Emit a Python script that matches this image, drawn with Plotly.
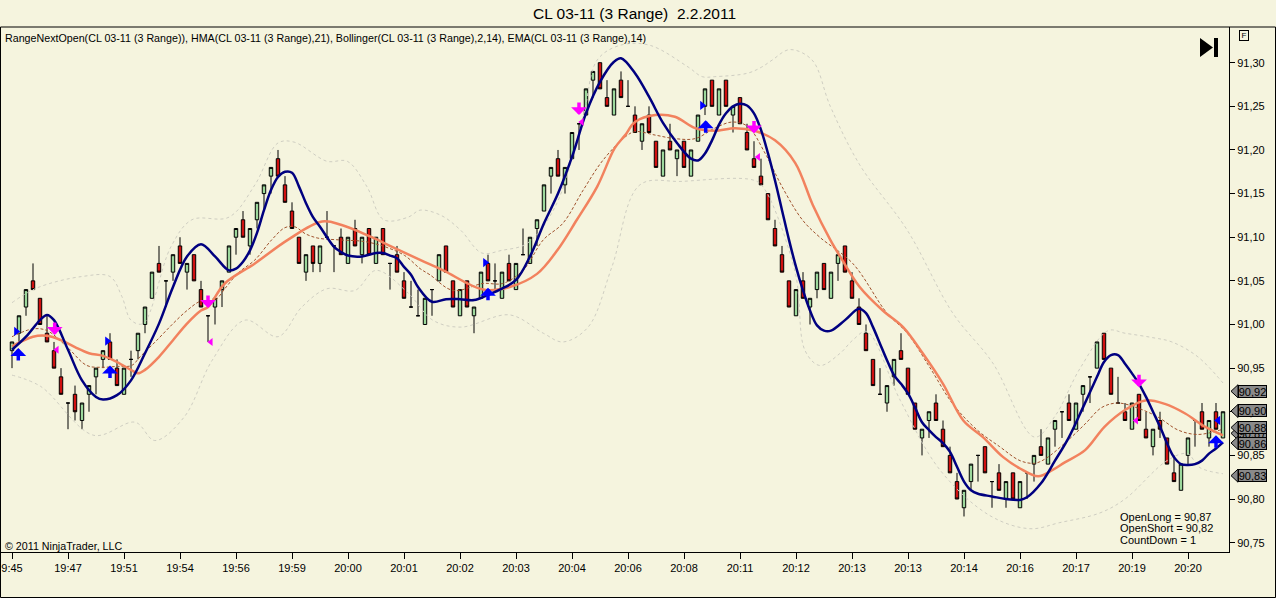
import plotly.graph_objects as go

# --- Achse / Zeiten ---
tick_pos = [0, 8, 16, 24, 32, 40, 48, 56, 64, 72, 80, 88, 96, 104, 112, 120, 128, 136, 144, 152, 160, 168]
tick_text = ["9:45", "19:47", "19:51", "19:54", "19:56", "19:59", "20:00", "20:01", "20:02", "20:03", "20:04",
             "20:06", "20:08", "20:11", "20:12", "20:13", "20:13", "20:14", "20:16", "20:17", "20:19", "20:20"]

# --- Range-Bars (CL 03-11, 3 Range) ---
opens = [
    90.97, 90.99, 91.02, 91.05, 91.03, 90.99, 90.97, 90.94, 90.91, 90.92,
    90.89, 90.92, 90.94, 90.96, 90.98, 90.95, 90.92, 90.96, 90.97, 91.00,
    91.03, 91.07, 91.05, 91.06, 91.09, 91.06, 91.08, 91.04, 91.01, 91.02,
    91.04, 91.06, 91.10, 91.12, 91.09, 91.12, 91.15, 91.17, 91.19, 91.16,
    91.13, 91.10, 91.06, 91.09, 91.07, 91.10, 91.09, 91.10, 91.07, 91.11,
    91.08, 91.11, 91.07, 91.11, 91.07, 91.08, 91.05, 91.02, 91.01, 91.00,
    91.04, 91.05, 91.09, 91.05, 91.01, 91.05, 91.01, 91.03, 91.07, 91.05,
    91.03, 91.07, 91.04, 91.08, 91.07, 91.11, 91.13, 91.17, 91.19, 91.16,
    91.19, 91.23, 91.24, 91.28, 91.30, 91.26, 91.24, 91.28, 91.25, 91.24,
    91.21, 91.24, 91.21, 91.17, 91.21, 91.19, 91.21, 91.17, 91.21, 91.25,
    91.28, 91.24, 91.28, 91.24, 91.26, 91.22, 91.19, 91.17, 91.15, 91.11,
    91.08, 91.05, 91.01, 91.05, 91.02, 91.04, 91.07, 91.03, 91.07, 91.09,
    91.05, 91.02, 90.99, 90.96, 90.92, 90.91, 90.94, 90.97, 90.95, 90.91,
    90.87, 90.89, 90.91, 90.88, 90.85, 90.82, 90.79, 90.82, 90.85, 90.86,
    90.82, 90.83, 90.80, 90.83, 90.79, 90.83, 90.84, 90.86, 90.84, 90.88,
    90.90, 90.91, 90.88, 90.92, 90.94, 90.95, 90.99, 90.95, 90.91, 90.90,
    90.88, 90.92, 90.88, 90.86, 90.89, 90.87, 90.83, 90.81, 90.85, 90.89,
    90.90, 90.87, 90.90, 90.87]
closes = [
    90.98, 91.01, 91.04, 91.04, 91.00, 90.98, 90.95, 90.92, 90.91, 90.90,
    90.91, 90.93, 90.95, 90.97, 90.96, 90.93, 90.95, 90.96, 90.99, 91.02,
    91.06, 91.06, 91.05, 91.08, 91.07, 91.07, 91.05, 91.02, 91.01, 91.03,
    91.05, 91.09, 91.11, 91.10, 91.11, 91.14, 91.16, 91.18, 91.17, 91.14,
    91.11, 91.07, 91.08, 91.07, 91.09, 91.10, 91.09, 91.08, 91.10, 91.09,
    91.10, 91.08, 91.10, 91.08, 91.07, 91.06, 91.03, 91.02, 91.01, 91.03,
    91.04, 91.08, 91.06, 91.02, 91.04, 91.02, 91.02, 91.06, 91.05, 91.05,
    91.06, 91.05, 91.07, 91.08, 91.10, 91.12, 91.16, 91.18, 91.17, 91.18,
    91.22, 91.23, 91.27, 91.29, 91.27, 91.25, 91.27, 91.26, 91.25, 91.22,
    91.23, 91.22, 91.18, 91.20, 91.20, 91.20, 91.18, 91.20, 91.24, 91.27,
    91.25, 91.27, 91.25, 91.25, 91.23, 91.20, 91.18, 91.16, 91.12, 91.09,
    91.06, 91.02, 91.04, 91.03, 91.03, 91.06, 91.04, 91.06, 91.08, 91.06,
    91.03, 91.00, 90.97, 90.93, 90.92, 90.93, 90.96, 90.96, 90.92, 90.88,
    90.88, 90.90, 90.89, 90.86, 90.83, 90.80, 90.81, 90.84, 90.85, 90.83,
    90.82, 90.81, 90.82, 90.80, 90.82, 90.83, 90.85, 90.85, 90.87, 90.89,
    90.90, 90.89, 90.91, 90.93, 90.94, 90.98, 90.96, 90.92, 90.91, 90.89,
    90.91, 90.89, 90.87, 90.88, 90.88, 90.84, 90.82, 90.84, 90.87, 90.89,
    90.88, 90.89, 90.88, 90.90]
highs = [
    90.98, 91.01, 91.04, 91.07, 91.03, 91.01, 90.98, 90.95, 90.91, 90.93,
    90.91, 90.93, 90.95, 90.97, 90.99, 90.96, 90.95, 90.97, 90.99, 91.02,
    91.06, 91.09, 91.05, 91.08, 91.10, 91.07, 91.08, 91.05, 91.01, 91.03,
    91.05, 91.09, 91.11, 91.13, 91.11, 91.14, 91.16, 91.18, 91.20, 91.17,
    91.14, 91.10, 91.08, 91.09, 91.09, 91.13, 91.09, 91.11, 91.10, 91.12,
    91.10, 91.11, 91.10, 91.11, 91.07, 91.09, 91.06, 91.05, 91.04, 91.03,
    91.04, 91.08, 91.09, 91.05, 91.04, 91.05, 91.02, 91.06, 91.08, 91.07,
    91.06, 91.08, 91.07, 91.11, 91.10, 91.12, 91.16, 91.18, 91.20, 91.18,
    91.22, 91.23, 91.27, 91.29, 91.30, 91.28, 91.27, 91.29, 91.28, 91.25,
    91.23, 91.25, 91.21, 91.20, 91.23, 91.20, 91.21, 91.20, 91.24, 91.27,
    91.28, 91.27, 91.28, 91.25, 91.26, 91.23, 91.21, 91.19, 91.15, 91.12,
    91.09, 91.05, 91.04, 91.06, 91.03, 91.06, 91.07, 91.06, 91.08, 91.09,
    91.06, 91.03, 91.00, 90.96, 90.95, 90.93, 90.96, 90.99, 90.95, 90.91,
    90.88, 90.90, 90.92, 90.89, 90.86, 90.83, 90.81, 90.84, 90.85, 90.86,
    90.82, 90.84, 90.82, 90.83, 90.82, 90.83, 90.85, 90.88, 90.87, 90.89,
    90.90, 90.92, 90.91, 90.93, 90.94, 90.98, 90.99, 90.95, 90.94, 90.91,
    90.91, 90.92, 90.90, 90.88, 90.90, 90.87, 90.85, 90.84, 90.87, 90.89,
    90.91, 90.89, 90.91, 90.90]
lows = [
    90.95, 90.98, 91.01, 91.04, 91.00, 90.98, 90.95, 90.92, 90.88, 90.89,
    90.88, 90.90, 90.92, 90.95, 90.96, 90.93, 90.92, 90.94, 90.96, 90.99,
    91.03, 91.06, 91.02, 91.05, 91.07, 91.04, 91.05, 91.02, 90.98, 91.00,
    91.02, 91.06, 91.08, 91.10, 91.08, 91.11, 91.13, 91.15, 91.17, 91.14,
    91.11, 91.07, 91.05, 91.06, 91.06, 91.10, 91.06, 91.08, 91.07, 91.09,
    91.07, 91.08, 91.07, 91.08, 91.04, 91.06, 91.03, 91.02, 91.01, 91.00,
    91.01, 91.05, 91.06, 91.02, 91.01, 91.02, 90.99, 91.03, 91.05, 91.04,
    91.03, 91.05, 91.04, 91.08, 91.07, 91.09, 91.13, 91.15, 91.17, 91.15,
    91.19, 91.20, 91.24, 91.26, 91.27, 91.25, 91.24, 91.26, 91.25, 91.22,
    91.20, 91.22, 91.18, 91.17, 91.20, 91.17, 91.18, 91.17, 91.21, 91.24,
    91.25, 91.24, 91.25, 91.22, 91.23, 91.20, 91.18, 91.16, 91.12, 91.09,
    91.06, 91.02, 91.01, 91.03, 91.00, 91.03, 91.04, 91.03, 91.05, 91.06,
    91.03, 91.00, 90.97, 90.93, 90.92, 90.90, 90.93, 90.96, 90.92, 90.88,
    90.85, 90.87, 90.89, 90.86, 90.83, 90.80, 90.78, 90.81, 90.82, 90.83,
    90.79, 90.81, 90.79, 90.80, 90.79, 90.80, 90.82, 90.85, 90.84, 90.86,
    90.87, 90.89, 90.88, 90.90, 90.91, 90.95, 90.96, 90.92, 90.91, 90.89,
    90.88, 90.89, 90.87, 90.85, 90.87, 90.84, 90.82, 90.81, 90.84, 90.86,
    90.88, 90.86, 90.88, 90.87]
bar_idx = list(range(len(opens)))

# --- Indikatoren ---
hma_x = [0, 2, 4, 5, 6, 8, 10, 12, 13, 15, 17, 19, 21, 23, 25, 27, 29, 31, 32, 33,
         34, 35, 36, 37, 38, 39, 40, 41, 42, 43, 44, 45, 46, 47, 48, 50, 52, 53, 54, 55,
         56, 57, 58, 60, 62, 64, 66, 68, 70, 72, 74, 76, 78, 80, 82, 84, 86, 87, 89, 91,
         93, 95, 97, 98, 99, 100, 101, 102, 103, 104, 105, 106, 107, 108, 109, 110, 111, 112, 113, 114,
         115, 116, 117, 119, 121, 122, 123, 124, 125, 126, 127, 128, 129, 130, 131, 132, 133, 134, 135, 136,
         137, 138, 140, 142, 144, 145, 147, 149, 151, 153, 155, 156, 157, 158, 159, 160, 161, 162, 163, 164,
         165, 166, 167, 168, 169, 170, 171, 172, 173]
hma_y = [90.971, 90.986, 91.005, 91.011, 91.005, 90.971, 90.936, 90.917, 90.914, 90.919,
         90.936, 90.967, 91.001, 91.043, 91.078, 91.092, 91.078, 91.062, 91.064, 91.072,
         91.085, 91.105, 91.131, 91.154, 91.169, 91.175, 91.174, 91.158, 91.139, 91.123,
         91.112, 91.100, 91.089, 91.083, 91.079, 91.078, 91.082, 91.082, 91.079, 91.076,
         91.066, 91.057, 91.043, 91.026, 91.029, 91.029, 91.028, 91.034, 91.041, 91.051,
         91.078, 91.116, 91.150, 91.192, 91.242, 91.278, 91.301, 91.305, 91.288, 91.261,
         91.231, 91.208, 91.190, 91.188, 91.196, 91.211, 91.229, 91.242, 91.250, 91.253,
         91.251, 91.242, 91.223, 91.196, 91.165, 91.131, 91.097, 91.066, 91.039, 91.016,
         90.999, 90.993, 90.993, 91.005, 91.018, 91.013, 90.997, 90.978, 90.959, 90.942,
         90.932, 90.921, 90.905, 90.888, 90.879, 90.871, 90.864, 90.854, 90.837, 90.820,
         90.810, 90.806, 90.803, 90.800, 90.799, 90.802, 90.818, 90.844, 90.871, 90.905,
         90.940, 90.957, 90.965, 90.965, 90.955, 90.944, 90.932, 90.917, 90.900, 90.883,
         90.864, 90.848, 90.840, 90.839, 90.840, 90.844, 90.852, 90.858, 90.865]

ema_x = [0, 3, 5, 7, 9, 11, 13, 15, 17, 18, 19, 21, 23, 25, 27, 28, 30.4, 34.7, 39.4, 44.3,
         47.1, 51.4, 54.3, 58.3, 61.6, 67.3, 71.1, 75, 77.9, 80.7, 83.6, 86.1, 87.6, 89, 91.9,
         94.7, 97.6, 100.4, 103.3, 106.1, 109, 111.9, 114.4, 116.9, 118.3, 121.1, 124.4, 127.3,
         130.1, 133, 135.9, 138.7, 141.6, 144, 146.6, 148.6, 150.4, 153.3, 156.1, 159, 161.9,
         164.7, 167.6, 170.4, 173]
ema_y = [90.975, 90.986, 90.987, 90.982, 90.974, 90.967, 90.964, 90.957, 90.948, 90.944,
         90.948, 90.963, 90.982, 91.001, 91.016, 91.020, 91.047, 91.070, 91.097, 91.118,
         91.114, 91.100, 91.089, 91.074, 91.062, 91.040, 91.043, 91.058, 91.085, 91.120,
         91.158, 91.202, 91.217, 91.232, 91.240, 91.238, 91.225, 91.222, 91.225, 91.222,
         91.211, 91.185, 91.137, 91.097, 91.078, 91.043, 91.016, 90.997, 90.967, 90.932,
         90.890, 90.871, 90.848, 90.835, 90.826, 90.833, 90.842, 90.856, 90.883, 90.902,
         90.913, 90.909, 90.898, 90.883, 90.873]

mid_x = [0, 3, 5, 7.9, 10.7, 13, 15, 17.1, 18.3, 20.7, 23, 25, 27, 29, 30.4, 32.3, 34.7, 37.1,
         39, 40.4, 41.9, 43.7, 46.6, 50.4, 53.3, 56.1, 58.3, 59.7, 63, 67.3, 70.1, 73, 75.9,
         78.7, 81.6, 84.4, 87.6, 89, 91.9, 94.7, 97.6, 100.4, 102.9, 105.1, 107.6, 110, 112.9,
         115.4, 120.1, 125, 127.9, 131.1, 134.4, 137.9, 141.1, 144, 146.1, 147.6, 150.4, 153.3,
         155.7, 158, 160.9, 163.7, 166.6, 169.4, 173]
mid_y = [90.986, 90.995, 90.993, 90.974, 90.953, 90.951, 90.952, 90.953, 90.963, 90.982,
         91.001, 91.016, 91.027, 91.028, 91.041, 91.059, 91.074, 91.097, 91.111, 91.112,
         91.104, 91.099, 91.097, 91.095, 91.089, 91.079, 91.064, 91.057, 91.039, 91.047,
         91.047, 91.062, 91.097, 91.116, 91.154, 91.188, 91.215, 91.221, 91.217, 91.213,
         91.213, 91.225, 91.232, 91.227, 91.196, 91.158, 91.120, 91.100, 91.070, 91.013,
         90.990, 90.951, 90.909, 90.879, 90.860, 90.844, 90.841, 90.846, 90.864, 90.886,
         90.905, 90.910, 90.904, 90.894, 90.879, 90.874, 90.880]

upper_x = [0, 3.6, 10, 14, 15.7, 17, 18.7, 22.7, 25.7, 31, 34.7, 38, 40.3, 45, 47.9, 50.7,
           53.1, 56.6, 58.3, 61.3, 64.1, 67.1, 70, 73.6, 77.6, 81.6, 83.6, 86.9, 91.1, 96.6,
           98.6, 100.4, 105.1, 107.1, 108.6, 111.1, 114.3, 116.9, 121.1, 127.9, 134.4, 140.1,
           146.1, 149, 152.6, 156.6, 159, 162.9, 165.7, 169.4, 173]
upper_y = [91.025, 91.042, 91.055, 91.055, 91.032, 91.005, 91.001, 91.089, 91.120, 91.123,
           91.160, 91.208, 91.209, 91.187, 91.187, 91.158, 91.120, 91.123, 91.131, 91.125,
           91.108, 91.082, 91.085, 91.093, 91.135, 91.238, 91.303, 91.320, 91.320, 91.295,
           91.284, 91.284, 91.288, 91.295, 91.303, 91.315, 91.303, 91.250, 91.183, 91.108,
           91.013, 90.956, 90.871, 90.895, 90.950, 90.993, 90.990, 90.985, 90.980, 90.963,
           90.933]

lower_x = [0, 4.1, 11.7, 17.6, 20.4, 24.6, 28.6, 33.3, 38, 41.4, 45, 49, 52, 56.6, 60.1, 64.1,
           71.1, 75.9, 78.7, 82.3, 85.7, 89.7, 95.7, 106.1, 107.6, 111.9, 113.3, 115.4, 118.3,
           120.1, 122.1, 126.9, 132.6, 139.7, 145.4, 149.7, 155.4, 159, 165, 167.9, 169.7, 173]
lower_y = [90.942, 90.929, 90.873, 90.888, 90.867, 90.894, 90.959, 91.005, 90.986, 91.020,
           91.041, 91.039, 91.062, 91.036, 91.005, 90.997, 91.011, 90.990, 90.980, 90.997,
           91.066, 91.160, 91.164, 91.165, 91.154, 91.059, 90.970, 90.953, 90.967, 90.982,
           90.992, 90.913, 90.833, 90.781, 90.766, 90.773, 90.784, 90.800, 90.844, 90.852,
           90.836, 90.829]

# --- Signale (RangeNextOpen) ---
long_tri_x = [0.6, 13.6, 67.6, 98.6]
long_tri_y = [90.992, 90.981, 91.071, 91.251]
last_tri_x = [172.3]
last_tri_y = [90.890]
long_arrow_x = [0.9, 14.0, 68.0, 99.1, 172.0]
long_arrow_tip = [90.973, 90.953, 91.042, 91.234, 90.873]
short_arrow_x = [6.1, 28.0, 81.0, 106.0, 161.0]
short_arrow_tip = [90.988, 91.019, 91.240, 91.219, 90.928]
short_tri_x = [6.4, 28.4, 81.4, 106.6, 160.6]
short_tri_y = [90.971, 90.980, 91.232, 91.192, 90.890]

# --- Preis-Marker rechts ---
marker_prices = [90.8753, 90.9235, 90.9009, 90.8819, 90.8642, 90.8268]
marker_texts = ["90,87", "90,92", "90,90", "90,88", "90,86", "90,83"]

info_lines = ["OpenLong = 90,87", "OpenShort = 90,82", "CountDown = 1"]

BG = "#F5F4DE"
FONT = "Liberation Sans"

# Seitengeometrie
W, H = 1276, 598
ML, MR, MT, MB = 1, 47, 27, 46
PW, PH = W - ML - MR, H - MT - MB


def fx(p):
    return (p - ML) / PW


def fy(p):
    return (H - MB - p) / PH


fig = go.Figure()

band_line = dict(color="#CFCEC2", width=1, dash="dot", shape="spline", smoothing=1)
fig.add_trace(go.Scatter(x=upper_x, y=upper_y, mode="lines", line=band_line, hoverinfo="skip"))
fig.add_trace(go.Scatter(x=lower_x, y=lower_y, mode="lines", line=band_line, hoverinfo="skip"))

fig.add_trace(go.Candlestick(
    x=bar_idx, open=opens, high=highs, low=lows, close=closes,
    increasing=dict(fillcolor="#9CD89C", line=dict(color="black", width=1)),
    decreasing=dict(fillcolor="#D01010", line=dict(color="black", width=1)),
    hoverinfo="skip"
))

fig.add_trace(go.Scatter(x=mid_x, y=mid_y, mode="lines",
                         line=dict(color="#A0522D", width=1, dash="3px,2px", shape="spline", smoothing=1),
                         hoverinfo="skip"))
fig.add_trace(go.Scatter(x=ema_x, y=ema_y, mode="lines",
                         line=dict(color="#F2825E", width=2.5, shape="spline", smoothing=1),
                         hoverinfo="skip"))
fig.add_trace(go.Scatter(x=hma_x, y=hma_y, mode="lines",
                         line=dict(color="#000080", width=2.5, shape="spline", smoothing=1),
                         hoverinfo="skip"))

# Signale
fig.add_trace(go.Scatter(x=long_tri_x, y=long_tri_y, mode="markers",
                         marker=dict(symbol="triangle-right", size=8, color="#0000FF"), hoverinfo="skip"))
fig.add_trace(go.Scatter(x=last_tri_x, y=last_tri_y, mode="markers",
                         marker=dict(symbol="triangle-left", size=8, color="#0000FF"), hoverinfo="skip"))
fig.add_trace(go.Scatter(x=short_tri_x, y=short_tri_y, mode="markers",
                         marker=dict(symbol="triangle-left", size=7, color="#FF00FF"), hoverinfo="skip"))

shapes = []
annotations = []

# Pfeile (Long blau nach oben, Short magenta nach unten)
for xv, yv in zip(long_arrow_x, long_arrow_tip):
    annotations.append(dict(x=xv, y=yv, xref="x", yref="y", text="", showarrow=True,
                            ax=0, ay=14, arrowcolor="#0000FF", arrowwidth=3.5,
                            arrowhead=1, arrowsize=0.75))
for xv, yv in zip(short_arrow_x, short_arrow_tip):
    annotations.append(dict(x=xv, y=yv, xref="x", yref="y", text="", showarrow=True,
                            ax=0, ay=-14, arrowcolor="#FF00FF", arrowwidth=3.5,
                            arrowhead=1, arrowsize=0.75))

# Rahmen
shapes.append(dict(type="rect", xref="paper", yref="paper", x0=fx(0.5), x1=fx(1275.5),
                   y0=fy(597.5), y1=fy(27), line=dict(color="black", width=1), layer="above"))

# Preis-Marker an der Achse
half_h = 0.0075
for p, t in zip(marker_prices, marker_texts):
    shapes.append(dict(type="path", xref="paper", yref="y",
                       path=f"M {fx(1231)},{p} L {fx(1238)},{p + half_h} L {fx(1238)},{p - half_h} Z",
                       fillcolor="#8A8A8A", line=dict(color="black", width=1), layer="above"))
    annotations.append(dict(xref="paper", yref="y", x=fx(1252.5), y=p, text=t, showarrow=False,
                            xanchor="center", yanchor="middle", width=27, height=11,
                            bgcolor="#8A8A8A", bordercolor="black", borderwidth=1, borderpad=0,
                            font=dict(family=FONT, size=11, color="black")))

# Play-Symbol oben rechts
shapes.append(dict(type="path", xref="paper", yref="paper",
                   path=f"M {fx(1200)},{fy(38)} L {fx(1213)},{fy(47.5)} L {fx(1200)},{fy(57)} Z",
                   fillcolor="black", line=dict(width=0)))
shapes.append(dict(type="rect", xref="paper", yref="paper", x0=fx(1214), x1=fx(1218),
                   y0=fy(57), y1=fy(38), fillcolor="black", line=dict(width=0)))

annotations.append(dict(xref="paper", yref="paper", x=fx(1244), y=fy(35.5), text="F", showarrow=False,
                        xanchor="center", yanchor="middle", width=8, height=9, borderpad=0,
                        bordercolor="black", borderwidth=1, font=dict(family=FONT, size=8, color="black")))

annotations.append(dict(xref="paper", yref="paper", x=fx(634), y=fy(13),
                        text="CL 03-11 (3 Range)&nbsp; 2.2.2011",
                        showarrow=False, xanchor="center", yanchor="middle",
                        font=dict(family=FONT, size=15.5, color="black")))
annotations.append(dict(xref="paper", yref="paper", x=fx(3), y=fy(38.5),
                        text="RangeNextOpen(CL 03-11 (3 Range)), HMA(CL 03-11 (3 Range),21), "
                             "Bollinger(CL 03-11 (3 Range),2,14), EMA(CL 03-11 (3 Range),14)",
                        showarrow=False, xanchor="left", yanchor="middle",
                        font=dict(family=FONT, size=10.7, color="black")))
annotations.append(dict(xref="paper", yref="paper", x=fx(3), y=fy(546), text="© 2011 NinjaTrader, LLC",
                        showarrow=False, xanchor="left", yanchor="middle",
                        font=dict(family=FONT, size=10.7, color="black")))
for line, ypix in zip(info_lines, [516.7, 528.3, 540]):
    annotations.append(dict(xref="paper", yref="paper", x=fx(1118), y=fy(ypix), text=line,
                            showarrow=False, xanchor="left", yanchor="middle",
                            font=dict(family=FONT, size=11, color="black")))

fig.update_layout(
    width=W, height=H,
    margin=dict(l=ML, r=MR, t=MT, b=MB),
    paper_bgcolor=BG, plot_bgcolor=BG,
    showlegend=False,
    hovermode=False,
    separators=",.",
    font=dict(family=FONT, size=11, color="black"),
    shapes=shapes,
    annotations=annotations,
    xaxis=dict(range=[-11 / 7, 1217 / 7], tickvals=tick_pos, ticktext=tick_text,
               ticks="outside", ticklen=6, tickcolor="black", showgrid=False, zeroline=False,
               showline=True, linecolor="black", linewidth=1, rangeslider=dict(visible=False),
               tickfont=dict(family=FONT, size=11)),
    yaxis=dict(range=[90.7393, 91.3409], side="right", tick0=90.75, dtick=0.05, tickformat=".2f",
               ticks="outside", ticklen=5, tickcolor="black", showgrid=False, zeroline=False,
               showline=True, linecolor="black", linewidth=1, tickfont=dict(family=FONT, size=11)),
)

fig.write_html("out.html", config={"displayModeBar": False},
               post_script="document.body.style.margin='0';document.body.style.overflow='hidden';")
print("out.html geschrieben")
